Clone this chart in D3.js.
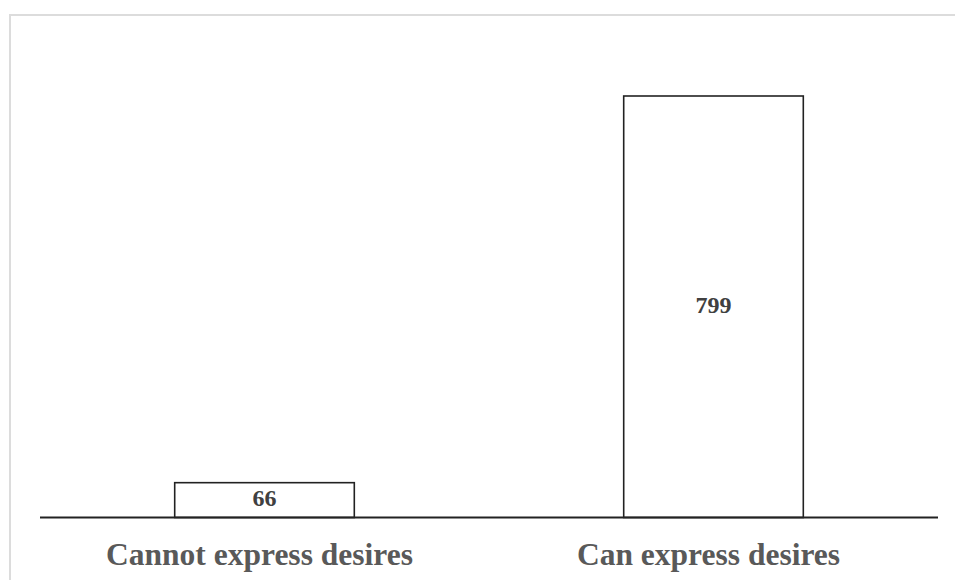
<!DOCTYPE html>
<html>
<head>
<meta charset="utf-8">
<script src="https://cdn.jsdelivr.net/npm/d3@7"></script>
<style>
  html, body { margin: 0; padding: 0; background: #ffffff; }
  svg { display: block; }
</style>
</head>
<body>
<svg id="chart" width="955" height="580"></svg>
<script>
// Respondents grouped by whether they can express their desires
const categories = ["Cannot express desires", "Can express desires"];
const counts = [66, 799];

const svg = d3.select("#chart");

// Chart area frame
svg.append("rect")
  .attr("x", 10).attr("y", 15)
  .attr("width", 960).attr("height", 600)
  .attr("fill", "none")
  .attr("stroke", "#dcdcdc")
  .attr("stroke-width", 2);

const x = d3.scaleBand()
  .domain(categories)
  .range([40, 938])
  .paddingInner(0.6)
  .paddingOuter(0.3);

const y = d3.scaleLinear()
  .domain([0, 799])
  .range([517.5, 96]);

// Bars
svg.selectAll("rect.bar")
  .data(categories)
  .join("rect")
  .attr("class", "bar")
  .attr("x", d => x(d))
  .attr("y", (d, i) => y(counts[i]))
  .attr("width", x.bandwidth())
  .attr("height", (d, i) => y(0) - y(counts[i]))
  .attr("fill", "#ffffff")
  .attr("stroke", "#222222")
  .attr("stroke-width", 1.6);

// Value labels centered in each bar
svg.selectAll("text.value")
  .data(categories)
  .join("text")
  .attr("class", "value")
  .attr("x", d => x(d) + x.bandwidth() / 2)
  .attr("y", (d, i) => (y(counts[i]) + y(0)) / 2)
  .attr("dy", "0.24em")
  .attr("text-anchor", "middle")
  .attr("font-family", "'Liberation Serif', 'Times New Roman', serif")
  .attr("font-weight", "bold")
  .attr("font-size", 24)
  .attr("fill", "#404040")
  .text((d, i) => counts[i]);

// Category axis along the baseline
const axis = svg.append("g")
  .attr("transform", `translate(0,${y(0)})`)
  .call(d3.axisBottom(x).tickSize(0).tickPadding(0));

axis.select(".domain")
  .attr("d", "M40,0H938")
  .attr("stroke", "#222222")
  .attr("stroke-width", 2);

axis.selectAll("text")
  .attr("y", 47)
  .attr("dy", 0)
  .attr("dx", -5)
  .attr("font-family", "'Liberation Serif', 'Times New Roman', serif")
  .attr("font-weight", "bold")
  .attr("font-size", 31.5)
  .attr("fill", "#595959");
</script>
</body>
</html>
